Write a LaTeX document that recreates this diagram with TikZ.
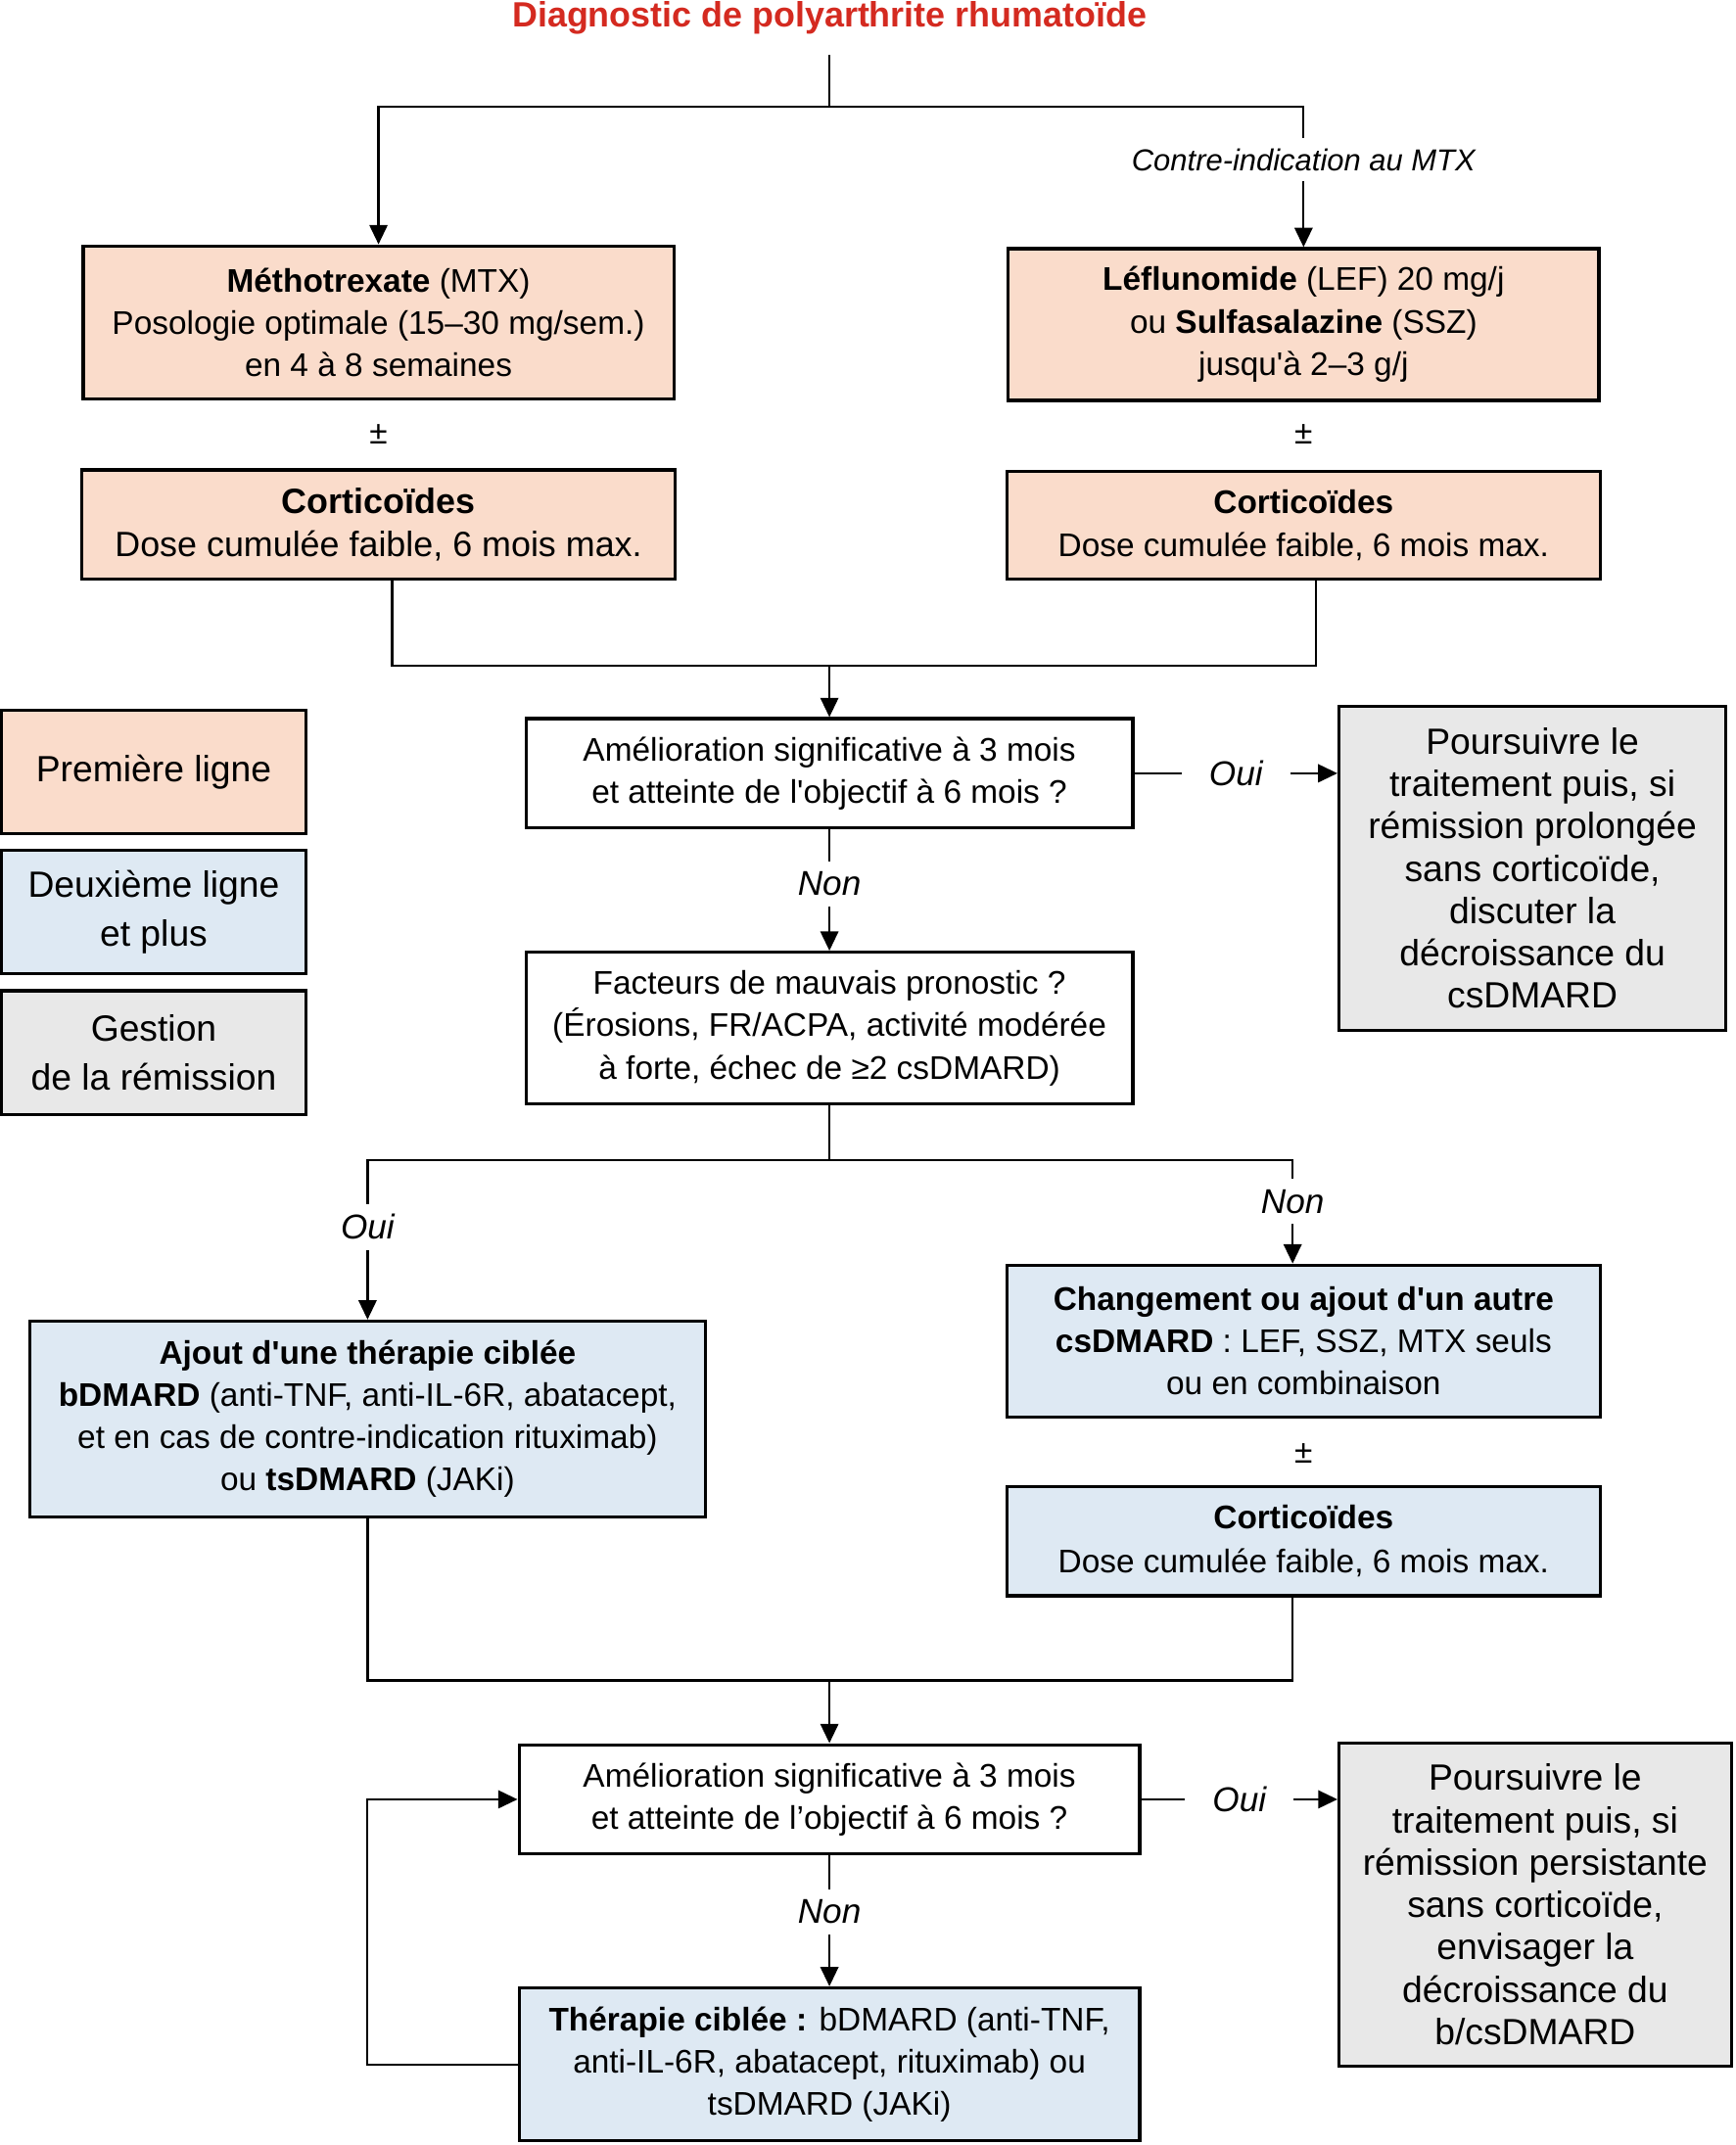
\documentclass[tikz,border=0pt]{standalone}
\usepackage{fontspec}
\setmainfont{Liberation Sans}
\usetikzlibrary{arrows.meta}
\definecolor{peach}{HTML}{FADCCB}
\definecolor{paleblue}{HTML}{DEE9F3}
\definecolor{palegray}{HTML}{E8E8E8}
\definecolor{titlered}{HTML}{D42A20}
\newcommand\apos{\textquotesingle}
\begin{document}
\begin{tikzpicture}[x=0.013953cm, y=-0.013953cm, line width=0.65pt,
  >={Triangle[length=5.6pt,width=5.2pt]},
  box/.style={draw, line width=0.9pt, inner sep=0pt, align=center, font=\fontsize{9.5}{12.3}\selectfont},
  first/.style={box, fill=peach},
  second/.style={box, fill=paleblue},
  quest/.style={box, fill=white},
  remis/.style={box, fill=palegray, font=\fontsize{10.6}{12.3}\selectfont},
  legend/.style={box, minimum width=3.111cm, minimum height=1.265cm, font=\fontsize{10.6}{14.3}\selectfont},
  lbl/.style={fill=white, inner xsep=8pt, inner ysep=3pt, font=\fontsize{10}{12}\selectfont\itshape},
  pm/.style={font=\fontsize{9.5}{12}\selectfont}]
\useasboundingbox (0,0) rectangle (1270,1570);
\node[font=\fontsize{10.2}{12}\selectfont\bfseries, text=titlered] (title) at (607,13) {Diagnostic de polyarthrite rhumatoïde};

% premiere ligne
\node[first, minimum width=6.028cm, minimum height=1.563cm] (mtx) at (277,236) {\textbf{Méthotrexate} (MTX)\\Posologie optimale (15–30 mg/sem.)\\en 4 à 8 semaines};
\node[first, minimum width=6.028cm, minimum height=1.549cm] (lef) at (954,237.5) {\textbf{Léflunomide} (LEF) 20 mg/j\\ou \textbf{Sulfasalazine} (SSZ)\\jusqu\apos à 2–3 g/j};
\node[pm] (pm1) at (277,318) {±};
\node[pm] (pm2) at (954,318) {±};
\node[first, minimum width=6.056cm, minimum height=1.116cm, font=\fontsize{10.2}{12.7}\selectfont] (cort1) at (277,384) {\textbf{Corticoïdes}\\Dose cumulée faible, 6 mois max.};
\node[first, minimum width=6.056cm, minimum height=1.102cm, font=\fontsize{9.5}{12.7}\selectfont] (cort2) at (954,384.5) {\textbf{Corticoïdes}\\Dose cumulée faible, 6 mois max.};

% legende
\node[legend, fill=peach] (leg1) at (112.5,565) {Première ligne};
\node[legend, fill=paleblue] (leg2) at (112.5,667.5) {Deuxième ligne\\et plus};
\node[legend, fill=palegray] (leg3) at (112.5,770.5) {Gestion\\de la rémission};

% evaluation
\node[quest, minimum width=6.195cm, minimum height=1.116cm] (q1) at (607,566) {Amélioration significative à 3 mois\\et atteinte de l\apos objectif à 6 mois ?};
\node[remis, minimum width=3.949cm, minimum height=3.307cm] (rem1) at (1121.5,635.5) {Poursuivre le\\traitement puis, si\\rémission prolongée\\sans corticoïde,\\discuter la\\décroissance du\\csDMARD};
\node[quest, minimum width=6.195cm, minimum height=1.549cm] (prono) at (607,752.5) {Facteurs de mauvais pronostic ?\\(Érosions, FR/ACPA, activité modérée\\à forte, échec de ≥2 csDMARD)};

% deuxieme ligne et plus
\node[second, minimum width=6.893cm, minimum height=1.995cm] (cible1) at (269,1038.5) {\textbf{Ajout d\apos une thérapie ciblée}\\\textbf{bDMARD} (anti-TNF, anti-IL-6R, abatacept,\\et en cas de contre-indication rituximab)\\ou \textbf{tsDMARD} (JAKi)};
\node[second, minimum width=6.056cm, minimum height=1.549cm] (chg) at (954,981.5) {\textbf{Changement ou ajout d\apos un autre}\\\textbf{csDMARD} : LEF, SSZ, MTX seuls\\ou en combinaison};
\node[pm] (pm3) at (954,1064) {±};
\node[second, minimum width=6.056cm, minimum height=1.116cm, font=\fontsize{9.5}{12.7}\selectfont] (cort3) at (954,1128) {\textbf{Corticoïdes}\\Dose cumulée faible, 6 mois max.};
\node[quest, minimum width=6.335cm, minimum height=1.116cm] (q2) at (607,1317) {Amélioration significative à 3 mois\\et atteinte de l’objectif à 6 mois ?};
\node[remis, minimum width=4.004cm, minimum height=3.293cm] (rem2) at (1123.5,1394) {Poursuivre le\\traitement puis, si\\rémission persistante\\sans corticoïde,\\envisager la\\décroissance du\\b/csDMARD};
\node[second, minimum width=6.335cm, minimum height=1.563cm] (cible2) at (607,1511) {\textbf{Thérapie ciblée :} bDMARD (anti-TNF,\\anti-IL-6R, abatacept, rituximab) ou\\tsDMARD (JAKi)};

% connecteurs
\coordinate (top) at (607,78);
\draw (title.south) ++(0,6) -- (top);
\draw[->] (top) -| (mtx.north);
\draw[->] (top) -| (lef.north) node[lbl, pos=0.69, font=\fontsize{8.8}{10}\selectfont\itshape] {Contre-indication au MTX};
\coordinate (join1) at (607,487);
\draw (cort1.south) ++(10,0) |- (join1);
\draw (cort2.south) ++(9,0) |- (join1);
\draw[->] (join1) -- (q1.north);
\draw[->] (q1.east) -- (q1.east -| rem1.west) node[lbl, midway] {Oui};
\draw[->] (q1.south) -- (prono.north) node[lbl, pos=0.45] {Non};
\coordinate (join2) at (607,849);
\draw (prono.south) -- (join2);
\draw[->] (join2) -| (cible1.north) node[lbl, pos=0.71] {Oui};
\draw[->] (join2) -| ([xshift=-0.1116cm]chg.north) node[lbl, pos=0.70] {Non};
\coordinate (join3) at (607,1230);
\draw (cible1.south) |- (join3);
\draw ([xshift=-0.1116cm]cort3.south) |- (join3);
\draw[->] (join3) -- (q2.north);
\draw[->] (q2.east) -- (q2.east -| rem2.west) node[lbl, midway] {Oui};
\draw[->] (q2.south) -- (cible2.north) node[lbl, pos=0.43] {Non};
\draw[->] (cible2.west) -- ++(-110,0) |- (q2.west);
\end{tikzpicture}
\end{document}
